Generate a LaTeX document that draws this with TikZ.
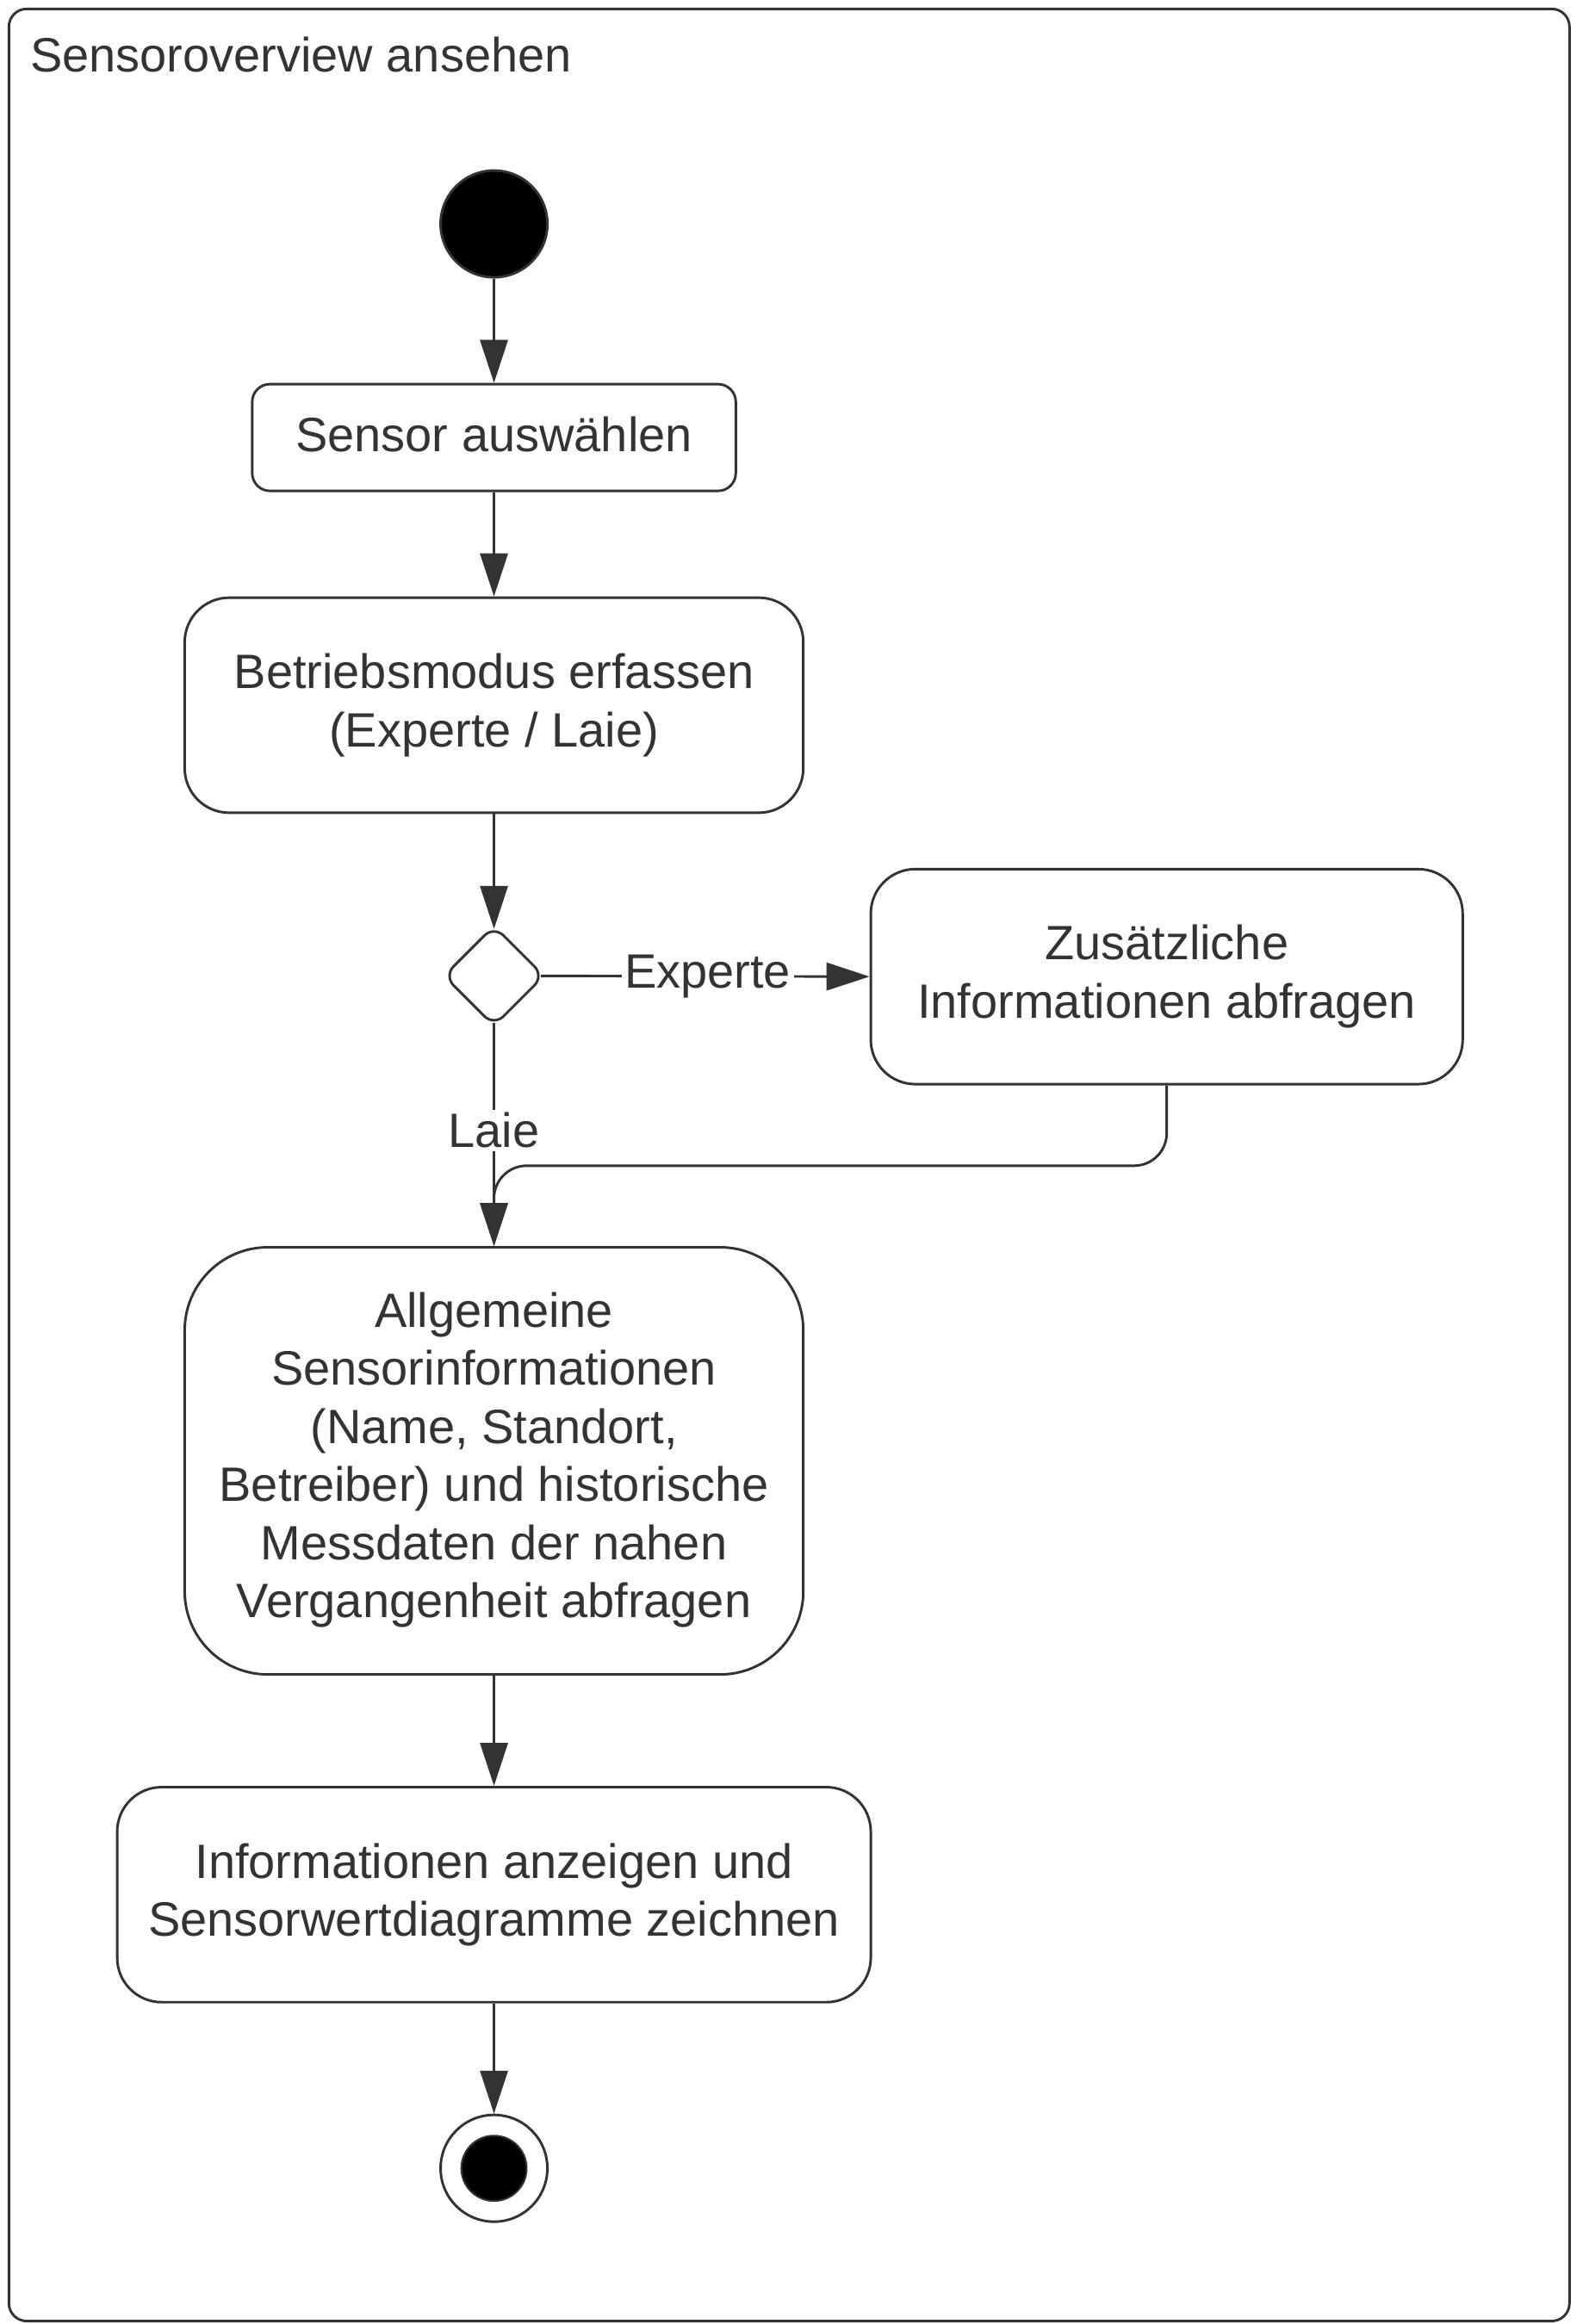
\documentclass[tikz,border=0pt]{standalone}
\usepackage{fontspec}
\setmainfont{Liberation Sans}
\usetikzlibrary{arrows.meta,shapes.geometric}
\definecolor{ink}{HTML}{333333}
\begin{document}
\begin{tikzpicture}[x=0.5pt,y=-0.5pt,
  every node/.style={font=\fontsize{16.25pt}{19.6pt}\selectfont, text=ink},
  act/.style={draw=ink, line width=0.85pt, rounded corners=15pt, align=center, inner sep=0pt, minimum height=72.5pt},
  conn/.style={draw=ink, line width=0.85pt, -{Triangle[length=14.5pt,width=9.3pt]}},
  lbl/.style={fill=white, inner sep=1pt}
]
\useasboundingbox (0,0) rectangle (1067,1567);
% frame
\draw[ink, line width=0.85pt, rounded corners=6pt] (6,6) rectangle (1058,1565);
\node[anchor=west, inner sep=0pt] (title) at (20,37) {Sensoroverview ansehen};
% nodes
\node[circle, fill=black, draw=ink, line width=0.85pt, minimum size=36pt, inner sep=0pt] (start) at (333,151) {};
\node[act, rounded corners=6pt, minimum width=163pt, minimum height=36pt] (sel) at (333,295) {\raisebox{2pt}{Sensor auswählen}};
\node[act, minimum width=208.5pt] (mode) at (333,475.5) {Betriebsmodus erfassen\\(Experte / Laie)};
\node[diamond, draw=ink, line width=0.85pt, rounded corners=4.5pt, minimum width=34pt, minimum height=34pt, inner sep=0pt] (dec) at (333,658) {};
\node[act, minimum width=199.5pt] (extra) at (786.5,658.5) {Zusätzliche\\Informationen abfragen};
\node[act, rounded corners=28pt, minimum width=208.5pt, minimum height=144pt] (gen) at (333,985) {\raisebox{1pt}{\begin{tabular}{@{}c@{}}Allgemeine\\Sensorinformationen\\(Name, Standort,\\Betreiber) und historische\\Messdaten der nahen\\Vergangenheit abfragen\end{tabular}}};
\node[act, minimum width=254pt] (info) at (333,1277.5) {Informationen anzeigen und\\Sensorwertdiagramme zeichnen};
\node[circle, draw=ink, fill=white, line width=0.85pt, minimum size=36pt, inner sep=0pt] (end) at (333,1462) {};
\node[circle, fill=black, draw=ink, line width=0.6pt, minimum size=22pt, inner sep=0pt] (endin) at (end.center) {};
\coordinate (m) at (560,786);
% connectors
\draw[conn] (start) -- (sel);
\draw[conn] (sel) -- (mode);
\draw[conn, shorten >=-1.6pt] (mode) -- (dec.north);
\draw[conn, shorten <=-1.6pt] (dec.east) -- node[lbl] (lexp) {Experte} (extra.west);
\draw[conn, shorten <=-1.6pt] (dec.south) -- node[lbl, pos=0.47] (llaie) {Laie} (gen.north);
\draw[conn, rounded corners=11pt] (extra.south) -- (extra.south |- m) -- (gen.north |- m) -- (gen.north);
\draw[conn] (gen) -- (info);
\draw[conn] (info) -- (end);
\end{tikzpicture}
\end{document}
